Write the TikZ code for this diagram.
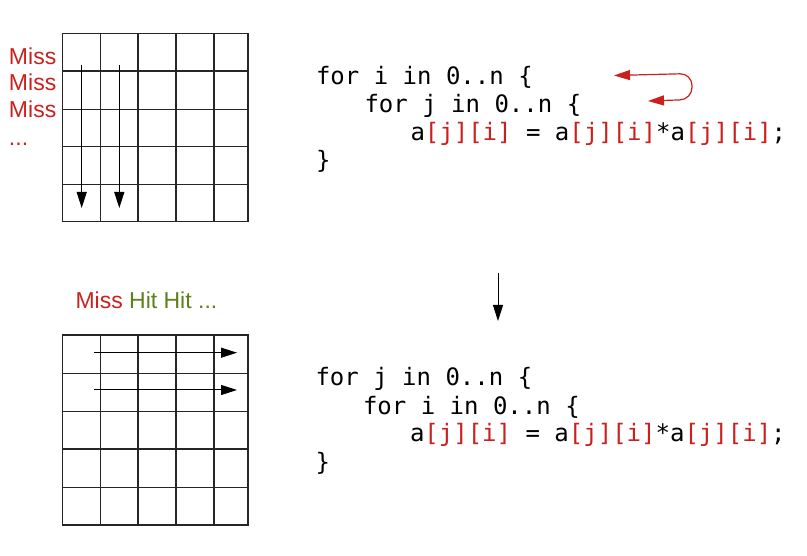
\documentclass[tikz,border=0pt]{standalone}
\usepackage{fontspec}
\setmainfont{Liberation Sans}
\newfontfamily\codefont{DejaVu Sans Mono}
\usetikzlibrary{arrows.meta}
\definecolor{missred}{RGB}{201,33,30}
\definecolor{hitgreen}{RGB}{94,128,26}
\newcommand{\idx}[1]{\textcolor{missred}{#1}}

\begin{document}
\begin{tikzpicture}[x=1pt, y=-1pt, >={Triangle[length=16pt, width=10pt]}, line width=1pt,
        codeline/.style={anchor=base west, inner sep=0pt, font=\codefont\fontsize{24}{28}\selectfont},
        misstext/.style={anchor=base west, inner sep=0pt, font=\fontsize{23}{26}\selectfont},
        cell/.style={draw=black!85, line width=1.1pt}]
        \useasboundingbox (0,0) rectangle (807,556);
        % column-wise walk
        \foreach \x in {62.5, 100.2, 138, 176, 214, 248}
            \draw[cell] (\x, 33.3) -- (\x, 221.7);
        \foreach \y in {33.3, 71, 109.3, 146.7, 184.3, 221.7}
            \draw[cell] (62, \y) -- (248.5, \y);
        \foreach \x/\n in {81.7/a, 119.3/b} {
            \coordinate (down\n0) at (\x, 65);
            \coordinate (down\n1) at (\x, 208);
            \draw[->] (down\n0) -- (down\n1);
        };
        \foreach \y/\n in {65/1, 91/2, 117.3/3}
            \node[misstext, text=missred] (miss\n) at (8.5, \y) {Miss};
        \node[misstext, text=missred] (missdots) at (8.5, 146) {...};
        % row-wise walk
        \foreach \x in {62.5, 100.2, 138, 176, 214, 248}
            \draw[cell] (\x, 335) -- (\x, 525);
        \foreach \y in {335, 373.3, 411.7, 449, 487.3, 525}
            \draw[cell] (62, \y) -- (248.5, \y);
        \foreach \y/\n in {352.7/a, 390/b} {
            \coordinate (right\n0) at (94.3, \y);
            \coordinate (right\n1) at (237, \y);
            \draw[->] (right\n0) -- (right\n1);
        };
        \node[misstext] (hits) at (75, 309) {\textcolor{missred}{Miss} \textcolor{hitgreen}{Hit Hit ...}};
        % code before
        \node[codeline] (outerI) at (315.5, 84.3) {for i in 0..n \{};
        \node[codeline] (innerJ) at (364, 112.3) {for j in 0..n \{};
        \node[codeline] (bodyA) at (410, 140.3) {a\idx{[j][i]} = a\idx{[j][i]}*a\idx{[j][i]};};
        \node[codeline] (closeA) at (315.5, 168.3) {\}};
        \coordinate (loopOut) at (614, 75.5);
        \coordinate (loopIn) at (648, 101);
        \draw[<->, missred, line width=1.2pt, rounded corners=12pt] (loopIn) -- (692, 99.5) -- (692, 73.5) -- (loopOut);
        % interchange
        \coordinate (swapTop) at (498, 273);
        \coordinate (swapTip) at (498, 321);
        \draw[->] (swapTop) -- (swapTip);
        % code after
        \node[codeline] (outerJ) at (315, 386) {for j in 0..n \{};
        \node[codeline] (innerI) at (362.5, 414) {for i in 0..n \{};
        \node[codeline] (bodyB) at (409.5, 442) {a\idx{[j][i]} = a\idx{[j][i]}*a\idx{[j][i]};};
        \node[codeline] (closeB) at (315, 470) {\}};
    \end{tikzpicture}
\end{document}
